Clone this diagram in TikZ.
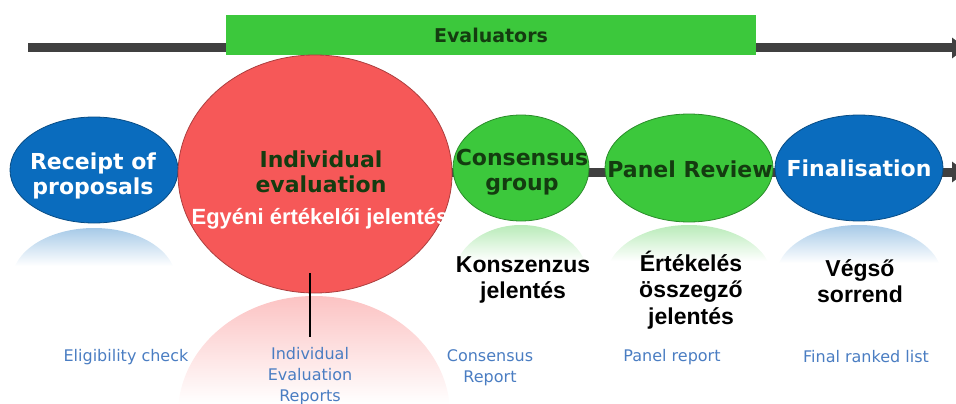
\documentclass[tikz,border=0pt]{standalone}
\usepackage{fontspec}
\setmainfont{DejaVu Sans}
\newfontfamily\arialfont{Liberation Sans}
\usetikzlibrary{shapes.geometric,arrows.meta}

\definecolor{pblue}{HTML}{0A6CBE}
\definecolor{pred}{HTML}{F65858}
\definecolor{pgreen}{HTML}{3CC83C}
\definecolor{pdark}{HTML}{143C10}
\definecolor{plabel}{HTML}{4A7DC2}
\definecolor{pline}{HTML}{404040}

\tikzset{
  stage/.style={ellipse, draw=#1!70!black, fill=#1, line width=0.8pt, inner sep=0pt},
  title/.style={font=\bfseries\fontsize{22}{25}\selectfont, align=center, inner sep=0pt},
  outcome/.style={font=\arialfont\bfseries\fontsize{23}{26.5}\selectfont, align=center, inner sep=0pt},
  report/.style={font=\fontsize{16}{21}\selectfont, text=plabel, align=center, inner sep=0pt},
  timeline/.style={line width=9pt, pline, -{Triangle[length=14pt,width=20pt]}}
}

\begin{document}
\begin{tikzpicture}[x=1pt,y=-1pt]
  \useasboundingbox (0,0) rectangle (956,404);

  % mirrored stages under the flow
  \foreach \cx/\top/\rx/\ry/\h/\col in {94/228/82/52/38/pblue, 314/296/136/118/108/pred, 521/225/67/52/36/pgreen, 689/225/83/53/36/pgreen, 859/225/83/52/38/pblue} {
    \begin{scope}
      \clip (\cx,\top+\ry) ellipse [x radius=\rx, y radius=\ry];
      \shade[top color=\col!36, bottom color=white] (\cx-\rx,\top) rectangle (\cx+\rx,\top+\h);
    \end{scope}
  }

  % time lines
  \coordinate (top start) at (28,48);
  \coordinate (top end) at (966,48);
  \coordinate (flow start) at (94,172);
  \coordinate (flow end) at (966,172);
  \draw[timeline] (top start) -- (top end);
  \draw[timeline] (flow start) -- (flow end);

  \node[fill=pgreen, minimum width=530pt, minimum height=40pt, inner sep=0pt,
        font=\bfseries\fontsize{19}{22}\selectfont, text=pdark] (evaluators) at (491,35) {Evaluators};

  % stages
  \node[stage=pblue, minimum width=168pt, minimum height=106pt] (receipt) at (94,170) {};
  \node[stage=pgreen, minimum width=136pt, minimum height=106pt] (consensus) at (521,168) {};
  \node[stage=pgreen, minimum width=168pt, minimum height=108pt] (panel) at (689,168) {};
  \node[stage=pblue, minimum width=168pt, minimum height=106pt] (final) at (859,168) {};
  \node[stage=pred, minimum width=274pt, minimum height=238pt] (indiv) at (315,174) {};

  \node[title, text=white] (receipt text) at (93,176) {Receipt of\\proposals};
  \node[title, text=pdark] (indiv text) at (321,172) {Individual\\evaluation};
  \node[font=\arialfont\bfseries\fontsize{22}{25}\selectfont, text=white, inner sep=0pt, anchor=base] (indiv report) at (320,224) {Egyéni értékelői jelentés};
  \node[title, text=pdark] (consensus text) at (522,172) {Consensus\\group};
  \node[title, text=pdark] (panel text) at (690,169) {Panel Review};
  \node[title, text=white] (final text) at (859,168) {Finalisation};

  % outcomes
  \node[outcome] (konszenzus) at (523,280) {Konszenzus\\jelentés};
  \node[outcome] (osszegzo) at (691,290) {Értékelés\\összegző\\jelentés};
  \node[outcome] (vegso) at (860,281) {Végső\\sorrend};

  % reports
  \node[report] (eligibility) at (126,357) {Eligibility check};
  \node[report] (ier) at (310,376) {Individual\\Evaluation\\Reports};
  \node[report] (cr) at (490,368) {Consensus\\Report};
  \node[report] (pr) at (672,357) {Panel report};
  \node[report] (frl) at (866,357) {Final ranked list};

  \coordinate (tick) at (310,273);
  \draw[line width=1.5pt, shorten >=10pt] (tick) -- (ier.north);
\end{tikzpicture}
\end{document}
